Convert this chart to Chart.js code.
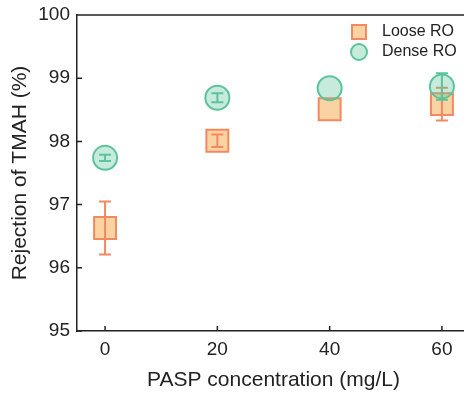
<!DOCTYPE html>
<html><head><meta charset="utf-8">
<script src="https://cdn.jsdelivr.net/npm/chart.js@4/dist/chart.umd.min.js"></script>
<style>
html,body{margin:0;padding:0;overflow:hidden;background:#fff;width:464px;height:399px}
#wrap{position:absolute;left:0;top:0;width:472px;height:399px}
</style></head><body>
<div id="wrap"><canvas id="c" width="472" height="399"></canvas></div>
<script>
const concentrations = [0, 20, 40, 60];
const looseRO = [96.63, 98.01, 98.51, 98.59];
const looseErr = [0.42, 0.10, 0, 0.26];
const denseRO = [97.74, 98.69, 98.84, 98.87];
const denseErr = [0.05, 0.07, 0, 0.21];
const xTicks = [0, 20, 40, 60];
const yTicks = [95, 96, 97, 98, 99, 100];
const seriesNames = ['Loose RO', 'Dense RO'];

const FONT = 'Liberation Sans, Arial, Helvetica, sans-serif';
const TXT = '#222';
const OR = '#f4895f', OR_FILL = '#fad3a2';
const GR = '#5cc39b', GR_FILL = 'rgba(92,195,155,0.35)';
const errs = [looseErr, denseErr];
const errColors = [OR, GR];

function drawErr(chart, i) {
  const ctx = chart.ctx, xs = chart.scales.x, ys = chart.scales.y;
  const vals = i === 0 ? looseRO : denseRO;
  ctx.save();
  ctx.strokeStyle = errColors[i];
  ctx.lineWidth = 2;
  concentrations.forEach((c, k) => {
    const e = errs[i][k];
    if (!e) return;
    const x = xs.getPixelForValue(c);
    const y1 = ys.getPixelForValue(vals[k] + e);
    const y2 = ys.getPixelForValue(vals[k] - e);
    ctx.beginPath();
    ctx.moveTo(x, y1); ctx.lineTo(x, y2);
    ctx.moveTo(x - 6, y1); ctx.lineTo(x + 6, y1);
    ctx.moveTo(x - 6, y2); ctx.lineTo(x + 6, y2);
    ctx.stroke();
  });
  ctx.restore();
}

const deco = {
  id: 'deco',
  afterDatasetDraw(chart, args) { if (args.index === 0) drawErr(chart, 0); },
  beforeDatasetDraw(chart, args) { if (args.index === 1) drawErr(chart, 1); },
  afterDraw(chart) {
    const ctx = chart.ctx, a = chart.chartArea, xs = chart.scales.x, ys = chart.scales.y;
    ctx.save();
    ctx.strokeStyle = TXT; ctx.lineWidth = 1.5;
    ctx.beginPath();
    ctx.moveTo(a.left, a.top); ctx.lineTo(a.right, a.top); ctx.lineTo(a.right, a.bottom);
    xTicks.forEach(v => { const x = xs.getPixelForValue(v); ctx.moveTo(x, a.bottom); ctx.lineTo(x, a.bottom - 5); });
    yTicks.forEach(v => { const y = ys.getPixelForValue(v); ctx.moveTo(a.left, y); ctx.lineTo(a.left + 5, y); });
    ctx.stroke();
    // legend
    ctx.lineWidth = 2;
    ctx.fillStyle = OR_FILL; ctx.strokeStyle = OR;
    ctx.fillRect(352, 25, 14, 14); ctx.strokeRect(352, 25, 14, 14);
    ctx.beginPath(); ctx.arc(359, 52, 8, 0, Math.PI * 2);
    ctx.fillStyle = '#c6ecd9'; ctx.fill(); ctx.strokeStyle = GR; ctx.stroke();
    ctx.fillStyle = TXT; ctx.font = '16px ' + FONT; ctx.textBaseline = 'middle'; ctx.textAlign = 'left';
    ctx.fillText(seriesNames[0], 382, 32);
    ctx.fillText(seriesNames[1], 382, 52);
    ctx.restore();
  }
};

new Chart(document.getElementById('c'), {
  type: 'scatter',
  data: {
    datasets: [
      { label: seriesNames[0], data: concentrations.map((c, i) => ({ x: c, y: looseRO[i] })),
        pointStyle: 'rect', pointRadius: 15.5, backgroundColor: OR_FILL, borderColor: OR, borderWidth: 2, order: 2 },
      { label: seriesNames[1], data: concentrations.map((c, i) => ({ x: c, y: denseRO[i] })),
        pointStyle: 'circle', pointRadius: 12, backgroundColor: GR_FILL, borderColor: GR, borderWidth: 2, order: 1 }
    ]
  },
  options: {
    responsive: false, animation: false, events: [],
    layout: { autoPadding: false, padding: { top: 15, right: 2, left: 0, bottom: 0 } },
    plugins: { legend: { display: false }, tooltip: { enabled: false } },
    scales: {
      x: {
        type: 'linear', min: -5, max: 65,
        afterBuildTicks: s => { s.ticks = xTicks.map(v => ({ value: v })); },
        afterFit: s => { s.height = 68; s.paddingLeft = 0; s.paddingRight = 0; },
        grid: { display: false, drawTicks: false },
        border: { display: true, color: TXT, width: 1.5 },
        ticks: { color: TXT, font: { family: FONT, size: 19 }, padding: 7 },
        title: { display: true, text: 'PASP concentration (mg/L)', color: TXT, font: { family: FONT, size: 21 }, padding: { top: 0, bottom: 6 } }
      },
      y: {
        min: 95, max: 100,
        afterBuildTicks: s => { s.ticks = yTicks.map(v => ({ value: v })); },
        afterFit: s => { s.width = 77; s.paddingTop = 0; s.paddingBottom = 0; },
        grid: { display: false, drawTicks: false },
        border: { display: true, color: TXT, width: 1.5 },
        ticks: { color: TXT, font: { family: FONT, size: 19 }, padding: 7 },
        title: { display: true, text: 'Rejection of TMAH (%)', color: TXT, font: { family: FONT, size: 21 }, padding: { top: 8, bottom: 0 } }
      }
    }
  },
  plugins: [deco]
});
</script>
</body></html>
